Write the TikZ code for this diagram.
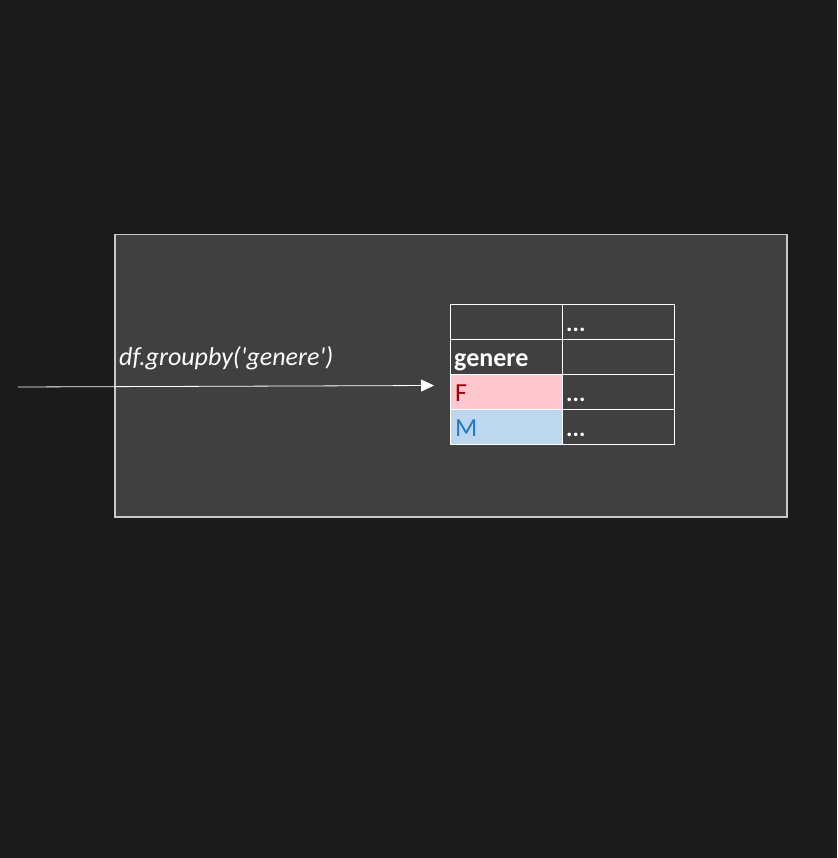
\documentclass[tikz,border=0pt]{standalone}
\usepackage{fontspec}
\setmainfont{Carlito}
\usetikzlibrary{arrows.meta}
\definecolor{bgdark}{HTML}{1B1B1B}
\definecolor{panel}{HTML}{404040}
\definecolor{panelline}{HTML}{C8C8C8}
\definecolor{pinkc}{HTML}{FFC7CE}
\definecolor{bluec}{HTML}{BDD7EE}
\definecolor{redtxt}{HTML}{9C0006}
\definecolor{bluetxt}{HTML}{1F78C8}
\begin{document}
\begin{tikzpicture}[x=1pt,y=-1pt,
  cell/.style={draw=white,line width=1pt,minimum width=112pt,minimum height=35pt,anchor=north west,inner sep=0pt},
  celltxt/.style={anchor=base west,inner sep=0pt,font=\fontsize{26}{30}\selectfont},
  dots/.style={anchor=base west,inner sep=0pt,text=white,font=\bfseries\fontsize{24}{28}\selectfont}]
\fill[bgdark] (0,0) rectangle (837,858);
\useasboundingbox (0,0) rectangle (837,858);
\node[draw=panelline,fill=panel,line width=1.5pt,minimum width=672pt,minimum height=282pt,anchor=north west,inner sep=0pt] (panel) at (114,234) {};
% table
\node[cell] (a1) at (450,304) {};
\node[cell] (b1) at (562,304) {};
\node[cell] (a2) at (450,339) {};
\node[cell] (b2) at (562,339) {};
\node[cell,fill=pinkc] (a3) at (450,374) {};
\node[cell] (b3) at (562,374) {};
\node[cell,fill=bluec] (a4) at (450,409) {};
\node[cell] (b4) at (562,409) {};
\node[dots] (d1) at (566,331) {...};
\node[celltxt,text=white,font=\bfseries\fontsize{26}{30}\selectfont] (g) at (454,366) {genere};
\node[celltxt,text=redtxt] (f) at (455,401) {F};
\node[dots] (d3) at (566,401) {...};
\node[celltxt,text=bluetxt] (m) at (455,436) {M};
\node[dots] (d4) at (566,436) {...};
% arrow
\coordinate (src) at (18,387);
\coordinate (dst) at (434,385.5);
\draw[white,line width=0.8pt,-{Triangle[length=13pt,width=12pt]}] (src) -- (dst);
\node[anchor=base west,inner sep=0pt,text=white,font=\itshape\fontsize{26}{30}\selectfont] (lbl) at (119,365) {df.groupby(\textquotesingle genere\textquotesingle)};
\end{tikzpicture}
\end{document}
